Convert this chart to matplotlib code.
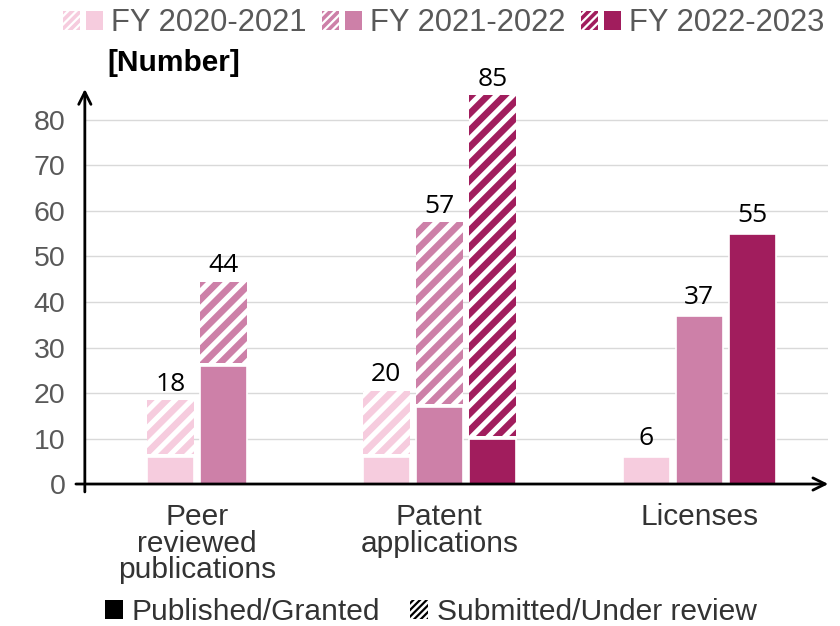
import numpy as np
import matplotlib
matplotlib.use("Agg")
import matplotlib.pyplot as plt
from matplotlib.patches import Patch
from matplotlib.legend_handler import HandlerTuple, HandlerPatch

plt.rcParams['font.family'] = ['Liberation Sans', 'DejaVu Sans']
plt.rcParams['hatch.linewidth'] = 4.8

# data
categories = ["Peer\nreviewed\npublications", "Patent\napplications", "Licenses"]
years = ["FY 2020-2021", "FY 2021-2022", "FY 2022-2023"]
colors = ["#F6CCDE", "#CD80A8", "#A11D5D"]
# published/granted part and submitted/under review part, per year
published = {
    "FY 2020-2021": [6, 6, 6],
    "FY 2021-2022": [26, 17, 37],
    "FY 2022-2023": [np.nan, 10, 55],
}
submitted = {
    "FY 2020-2021": [12, 14, 0],
    "FY 2021-2022": [18, 40, 0],
    "FY 2022-2023": [np.nan, 75, 0],
}
totals = {
    "FY 2020-2021": [18, 20, 6],
    "FY 2021-2022": [44, 57, 37],
    "FY 2022-2023": [np.nan, 85, 55],
}

group_centers = [0, 4.57, 9.47]
width = 0.89


def copy_hatch_width(legend_handle, orig_handle):
    legend_handle.update_from(orig_handle)
    lw = getattr(orig_handle, "_legend_hatch_lw", None)
    if lw is not None and hasattr(legend_handle, "set_hatch_linewidth"):
        legend_handle.set_hatch_linewidth(lw)


def hatch_patch(color, hatch, lw):
    p = Patch(facecolor="white", edgecolor=color, hatch=hatch, linewidth=0)
    p._legend_hatch_lw = lw
    return p


fig = plt.figure(figsize=(8.4, 6.26), dpi=100)
ax = fig.add_axes([0.101, 0.2268, 0.885, 0.631])

for g, center in enumerate(group_centers):
    present = [y for y in years if not np.isnan(totals[y][g])]
    n = len(present)
    for i, y in enumerate(present):
        x = center + (i - (n - 1) / 2)
        c = colors[years.index(y)]
        pub = published[y][g]
        sub = submitted[y][g]
        ax.bar(x, pub, width, color=c, edgecolor="white", linewidth=1.2, zorder=3)
        if sub > 0:
            ax.bar(x, sub, width, bottom=pub + 0.5, facecolor="white", edgecolor=c,
                   hatch="//", linewidth=0, zorder=3)
        ax.annotate(str(int(totals[y][g])), (x, totals[y][g]), xytext=(0, 4),
                    textcoords="offset points", ha="center", va="bottom",
                    fontsize=19, family=["Open Sans", "DejaVu Sans"], color="black")

ax.set_xlim(-2.11, 11.9)
ax.set_ylim(0, 86.8)
ax.set_yticks(range(0, 81, 10))
ax.set_xticks(group_centers)
ax.set_xticklabels(categories, fontsize=21.5, color="#333333", linespacing=0.92)
ax.tick_params(axis="y", length=0, pad=14, labelsize=20.5, labelcolor="#595959")
ax.tick_params(axis="x", length=0, pad=14)
ax.grid(axis="y", color="#D9D9D9", linewidth=1, zorder=0)
for s in ax.spines.values():
    s.set_visible(False)

# arrow axes
ax.annotate("", xy=(1.0, 0), xytext=(-0.012, 0), xycoords="axes fraction",
            arrowprops=dict(arrowstyle="->", lw=2, color="black", mutation_scale=22,
                            shrinkA=0, shrinkB=0), zorder=5)
ax.annotate("", xy=(0, 1.0), xytext=(0, -0.02), xycoords="axes fraction",
            arrowprops=dict(arrowstyle="->", lw=2, color="black", mutation_scale=22,
                            shrinkA=0, shrinkB=0), zorder=5)

fig.text(0.128, 0.9, "[Number]", fontsize=21.5, fontweight="bold", ha="left", va="center")

hmap = {tuple: HandlerTuple(ndivide=None, pad=0.17),
        Patch: HandlerPatch(update_func=copy_hatch_width)}

# top legend
handles = []
for y, c in zip(years, colors):
    handles.append((hatch_patch(c, "////", 2.6), Patch(facecolor=c, linewidth=0)))
fig.legend(handles, years, loc="center", bbox_to_anchor=(0.528, 0.963), ncol=3,
           frameon=False, fontsize=22.3, handler_map=hmap,
           handlelength=1.3, handleheight=0.55, handletextpad=0.25, columnspacing=0.5,
           labelcolor="#595959")

# bottom legend
h2 = [Patch(facecolor="black", linewidth=0), hatch_patch("black", "/////", 1.6)]
fig.legend(h2, ["Published/Granted", "Submitted/Under review"], loc="center",
           bbox_to_anchor=(0.513, 0.022), ncol=2, frameon=False, fontsize=21.6,
           handler_map=hmap,
           handlelength=0.58, handleheight=0.58, handletextpad=0.3, columnspacing=1.0,
           labelcolor="#333333")

fig.savefig("out.png", dpi=100)
